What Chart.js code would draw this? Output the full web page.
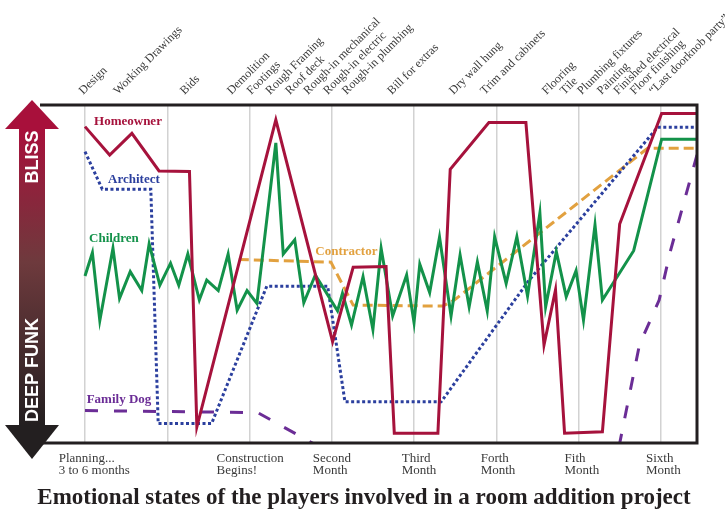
<!DOCTYPE html>
<html>
<head>
<meta charset="utf-8">
<script src="https://cdn.jsdelivr.net/npm/chart.js@4.4.1/dist/chart.umd.min.js"></script>
<style>
    body { margin: 0; background: #fff; }
    canvas { display: block; }
</style>
</head>
<body>
<canvas id="moods" width="728" height="514"></canvas>
<script>
// x is measured in months from the start (gridlines), y is mood 0 (deep funk) .. 100 (bliss)
const monthLines = [0, 1, 2, 3, 4, 5, 6, 7];
const periodLabels = [['Planning...', '3 to 6 months'], ['Construction', 'Begins!'], ['Second', 'Month'], ['Third', 'Month'], ['Forth', 'Month'], ['Fith', 'Month'], ['Sixth', 'Month']];
const periodPos = [-0.32, 1.60, 2.77, 3.85, 4.81, 5.83, 6.82];

const events = ['Design', 'Working Drawings', 'Bids', 'Demolition', 'Footings', 'Rough Framing', 'Roof deck',
    'Rough-in mechanical', 'Rough-in electric', 'Rough-in plumbing', 'Bill for extras', 'Dry wall hung',
    'Trim and cabinets', 'Flooring', 'Tile', 'Plumbing fixtures', 'Painting', 'Finished electrical',
    'Floor finishing', '\u201CLast doorknob party\u201D'];
const eventPos = [-0.02, 0.40, 1.21, 1.78, 2.02, 2.25, 2.49, 2.71, 2.95, 3.18, 3.73, 4.48, 4.86, 5.61, 5.83, 6.04, 6.28, 6.48, 6.68, 6.91];

const homeowner = [[0, 93.6], [0.30, 85.2], [0.57, 91.6], [0.90, 80.5], [1.27, 80.3], [1.36, 4.8], [2.32, 95.6],
    [3.01, 30.0], [3.26, 52.0], [3.66, 52.2], [3.76, 2.9], [4.29, 2.9], [4.44, 81.0], [4.91, 94.8], [5.36, 94.8],
    [5.58, 29.0], [5.72, 45.3], [5.83, 2.9], [6.29, 3.3], [6.50, 64.8], [7.01, 97.5], [7.44, 97.5]];

const architect = [[0, 86.2], [0.21, 75.1], [0.80, 75.1], [0.89, 5.8], [1.54, 5.8], [2.21, 46.4], [2.95, 46.4],
    [3.16, 12.2], [4.33, 12.2], [5.40, 48.2], [6.96, 93.4], [7.44, 93.4]];

const children = [[0, 49.4], [0.09, 56.3], [0.18, 36.2], [0.34, 57.6], [0.42, 42.8], [0.55, 50.7], [0.69, 45.1],
    [0.78, 58.9], [0.91, 46.7], [1.04, 53.2], [1.14, 46.7], [1.25, 55.9], [1.39, 42.3], [1.48, 48.2], [1.62, 45.1],
    [1.74, 55.9], [1.85, 39.3], [1.97, 45.1], [2.09, 41.3], [2.32, 88.8], [2.41, 55.9], [2.55, 60.1], [2.66, 41.5],
    [2.80, 49.7], [3.07, 39.1], [3.13, 44.3], [3.24, 34.9], [3.38, 49.2], [3.50, 33.6], [3.60, 57.6], [3.74, 37.6],
    [3.91, 49.7], [4.00, 35.6], [4.07, 52.9], [4.19, 44.5], [4.31, 60.9], [4.45, 37.6], [4.56, 55.6], [4.67, 40.3],
    [4.77, 53.6], [4.89, 39.1], [4.98, 61.0], [5.12, 47.2], [5.25, 61.0], [5.38, 43.5], [5.53, 68.0], [5.60, 40.3],
    [5.73, 56.6], [5.85, 43.3], [5.97, 51.0], [6.06, 36.4], [6.20, 64.5], [6.29, 42.3], [6.67, 56.9], [7.01, 89.9],
    [7.44, 89.9]];

const contractor = [[1.87, 54.3], [2.99, 53.5], [3.26, 40.8], [4.35, 40.5], [4.49, 42.3], [6.84, 87.2], [7.44, 87.2]];

const familyDog = [[0, 9.6], [2.10, 9.0], [2.77, -0.1], [2.97, -2.9], [6.37, -5], [6.50, -0.1], [6.74, 29.0],
    [6.98, 42.3], [7.12, 57.1], [7.44, 85.2]];

const chartTitle = 'Emotional states of the players involved in a room addition project';

const serif = '"Liberation Serif", "DejaVu Serif", serif';
const inkColor = '#3a3a3a';

function series(label, points, color, dash, tag) {
    return {
        label: label,
        data: points.map(p => ({ x: p[0], y: p[1] })),
        borderColor: color,
        borderWidth: 3,
        borderDash: dash,
        borderJoinStyle: 'miter',
        pointRadius: 0,
        tension: 0,
        clip: 0,
        tag: tag
    };
}

const decorations = {
    id: 'decorations',
    beforeDraw(chart) {
        const ctx = chart.ctx;
        ctx.save();
        ctx.fillStyle = '#fff';
        ctx.fillRect(0, 0, chart.width, chart.height);
        ctx.restore();
    },
    afterDatasetsDraw(chart) {
        const ctx = chart.ctx;
        const area = chart.chartArea;
        const xs = chart.scales.x;
        const ys = chart.scales.y;

        // frame: top, right, bottom
        ctx.save();
        ctx.strokeStyle = '#231f20';
        ctx.lineWidth = 3;
        ctx.beginPath();
        ctx.moveTo(area.left, area.top);
        ctx.lineTo(area.right, area.top);
        ctx.lineTo(area.right, area.bottom);
        ctx.lineTo(area.left + 3, area.bottom);
        ctx.stroke();

        // bliss / deep funk arrow
        const cx = 32;
        const grad = ctx.createLinearGradient(0, 129, 0, 425);
        grad.addColorStop(0, '#a8103b');
        grad.addColorStop(0.45, '#6e3a3d');
        grad.addColorStop(1, '#231f20');
        ctx.fillStyle = grad;
        ctx.fillRect(cx - 13, 128, 26, 298);
        ctx.fillStyle = '#a8103b';
        ctx.beginPath();
        ctx.moveTo(cx, 100);
        ctx.lineTo(cx + 27, 129);
        ctx.lineTo(cx - 27, 129);
        ctx.closePath();
        ctx.fill();
        ctx.fillStyle = '#231f20';
        ctx.beginPath();
        ctx.moveTo(cx - 27, 425);
        ctx.lineTo(cx + 27, 425);
        ctx.lineTo(cx, 459);
        ctx.closePath();
        ctx.fill();

        ctx.fillStyle = '#fff';
        ctx.font = 'bold 18px "Liberation Sans", Arial, sans-serif';
        ctx.textAlign = 'center';
        ctx.textBaseline = 'middle';
        [['BLISS', 157], ['DEEP FUNK', 370]].forEach(([word, y]) => {
            ctx.save();
            ctx.translate(cx + 1, y);
            ctx.rotate(-Math.PI / 2);
            ctx.fillText(word, 0, 0);
            ctx.restore();
        });

        // series names
        ctx.font = 'bold 13px ' + serif;
        ctx.textAlign = 'left';
        ctx.textBaseline = 'alphabetic';
        chart.data.datasets.forEach(ds => {
            ctx.fillStyle = ds.borderColor;
            ctx.fillText(ds.label, xs.getPixelForValue(ds.tag[0]), ys.getPixelForValue(ds.tag[1]));
        });

        // construction events along the top
        ctx.fillStyle = inkColor;
        ctx.font = '12px ' + serif;
        events.forEach((name, i) => {
            ctx.save();
            ctx.translate(xs.getPixelForValue(eventPos[i]), area.top - 10);
            ctx.rotate(-Math.PI / 4);
            ctx.fillText(name, 0, 0);
            ctx.restore();
        });

        // periods along the bottom
        ctx.font = '13px ' + serif;
        periodLabels.forEach((lines, i) => {
            const x = xs.getPixelForValue(periodPos[i]);
            lines.forEach((line, j) => ctx.fillText(line, x, area.bottom + 19 + j * 12));
        });

        ctx.fillStyle = '#231f20';
        ctx.font = 'bold 23px ' + serif;
        ctx.textAlign = 'center';
        ctx.fillText(chartTitle, 364, 504, 691);
        ctx.restore();
    }
};

new Chart(document.getElementById('moods'), {
    type: 'line',
    data: {
        datasets: [
            series('Homeowner', homeowner, '#a6123c', [], [0.11, 94.1]),
            series('Children', children, '#13924a', [], [0.05, 59.6]),
            series('Architect', architect, '#2b3f9e', [3, 2.5], [0.28, 76.8]),
            series('Contractor', contractor, '#e2a13f', [10, 5], [2.80, 55.6]),
            series('Family Dog', familyDog, '#6b2d96', [13, 16], [0.02, 11.7])
        ]
    },
    options: {
        responsive: false,
        animation: false,
        layout: { padding: { left: 40, right: 31, top: 105, bottom: 71 } },
        scales: {
            x: {
                type: 'linear',
                min: -0.547,
                max: 7.44,
                afterBuildTicks: axis => { axis.ticks = monthLines.map(v => ({ value: v })); },
                ticks: { display: false },
                grid: { color: '#d2d2d2', lineWidth: 1.5, drawTicks: false },
                border: { display: false }
            },
            y: {
                type: 'linear',
                min: 0,
                max: 100,
                display: false
            }
        },
        plugins: {
            legend: { display: false },
            tooltip: { enabled: false }
        }
    },
    plugins: [decorations]
});
</script>
</body>
</html>
